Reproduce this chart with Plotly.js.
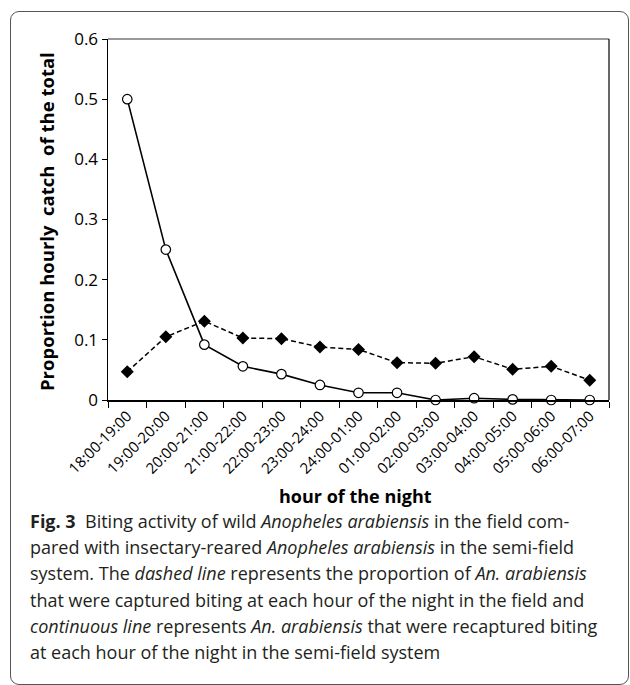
<!DOCTYPE html>
<html>
<head>
<meta charset="utf-8">
<script src="https://cdn.plot.ly/plotly-3.0.1.min.js"></script>
<style>
  html, body { margin: 0; padding: 0; background: #fff; }
  #wrap { position: relative; width: 630px; height: 685px; }
  #chart { position: absolute; left: 0; top: 0; width: 630px; height: 685px; }
  #frame { position: absolute; left: 10px; top: 11px; width: 617px; height: 672px;
           border: 1px solid #555; border-radius: 9px; pointer-events: none; z-index: 5; }
</style>
</head>
<body>
<div id="wrap"><div id="chart"></div><div id="frame"></div></div>
<script>
const categories = ["18:00-19:00","19:00-20:00","20:00-21:00","21:00-22:00","22:00-23:00","23:00-24:00","24:00-01:00","01:00-02:00","02:00-03:00","03:00-04:00","04:00-05:00","05:00-06:00","06:00-07:00"];
const fieldWild = [0.047,0.105,0.131,0.103,0.102,0.088,0.084,0.062,0.061,0.072,0.051,0.056,0.033];
const semiFieldReared = [0.5,0.25,0.092,0.056,0.043,0.025,0.012,0.012,0,0.003,0.001,0,0];
const yTicks = [0,0.1,0.2,0.3,0.4,0.5,0.6];
const yTickText = ["0","0.1","0.2","0.3","0.4","0.5","0.6"];

const captionLines = [
  "<b>Fig. 3</b>\u00a0\u00a0Biting activity of wild <i>Anopheles arabiensis</i> in the field com-",
  "pared with insectary-reared <i>Anopheles arabiensis</i> in the semi-field",
  "system. The <i>dashed line</i> represents the proportion of <i>An. arabiensis</i>",
  "that were captured biting at each hour of the night in the field and",
  "<i>continuous line</i> represents <i>An. arabiensis</i> that were recaptured biting",
  "at each hour of the night in the semi-field system"
];

// pixel helpers for paper coordinates
const L = 108, R = 21, T = 39, B = 285, W = 630, H = 685;
const pw = W - L - R, ph = H - T - B;
const px = x => (x - L) / pw;
const py = y => (H - B - y) / ph;

const FONT = "Open Sans, Liberation Sans, sans-serif";

const traces = [
  {
    x: categories, y: fieldWild, type: "scatter", mode: "lines+markers",
    line: {color: "#000", width: 1.5, dash: "5px,3px"},
    marker: {symbol: "diamond", size: 10, color: "#000"},
    showlegend: false, cliponaxis: false
  },
  {
    x: categories, y: semiFieldReared, type: "scatter", mode: "lines+markers",
    line: {color: "#000", width: 1.6},
    marker: {symbol: "circle", size: 9.5, color: "#fff", line: {color: "#000", width: 1.2}},
    showlegend: false, cliponaxis: false
  }
];

const annotations = [
  {text: "<b>hour of the night</b>", xref: "paper", yref: "paper", x: px(355), y: py(496),
   xanchor: "center", yanchor: "middle", showarrow: false, font: {family: FONT, size: 18, color: "#000"}},
  {text: "<b>Proportion hourly\u00a0 catch\u00a0 of the total</b>", xref: "paper", yref: "paper",
   x: px(46), y: py(222), textangle: -90, xanchor: "center", yanchor: "middle", showarrow: false,
   font: {family: FONT, size: 18.5, color: "#000"}}
];
const lineYs = [521, 547, 573, 600, 626, 652];
captionLines.forEach((t, i) => {
  annotations.push({text: t, xref: "paper", yref: "paper", x: px(28), y: py(lineYs[i]),
    xanchor: "left", yanchor: "middle", align: "left", showarrow: false,
    font: {family: FONT, size: 18, color: "#231f20"}});
});

const layout = {
  width: W, height: H,
  margin: {l: L, r: R, t: T, b: B, pad: 0},
  paper_bgcolor: "#fff", plot_bgcolor: "#fff",
  font: {family: FONT, color: "#000"},
  xaxis: {
    type: "category", range: [-0.5, 12.5], showgrid: false, zeroline: false,
    showline: true, linecolor: "#000", linewidth: 1.5,
    ticks: "outside", ticklen: 6, tickwidth: 1, tickcolor: "#000", tickson: "boundaries",
    tickangle: -45, tickfont: {family: FONT, size: 15, color: "#000"}, fixedrange: true
  },
  yaxis: {
    range: [0, 0.6], tickvals: yTicks, ticktext: yTickText, showgrid: false, zeroline: false,
    showline: true, linecolor: "#000", linewidth: 1.5,
    ticks: "outside", ticklen: 5, tickwidth: 1, tickcolor: "#000",
    tickfont: {family: FONT, size: 17, color: "#000"}, fixedrange: true
  },
  shapes: [
    {type: "line", xref: "paper", yref: "paper", x0: 0, x1: 1, y0: 1, y1: 1, line: {color: "#777", width: 1.5}},
    {type: "line", xref: "paper", yref: "paper", x0: 1, x1: 1, y0: 0, y1: 1, line: {color: "#000", width: 1.2}}
  ],
  annotations: annotations
};

Plotly.newPlot("chart", traces, layout, {displayModeBar: false, staticPlot: true});
</script>
</body>
</html>
